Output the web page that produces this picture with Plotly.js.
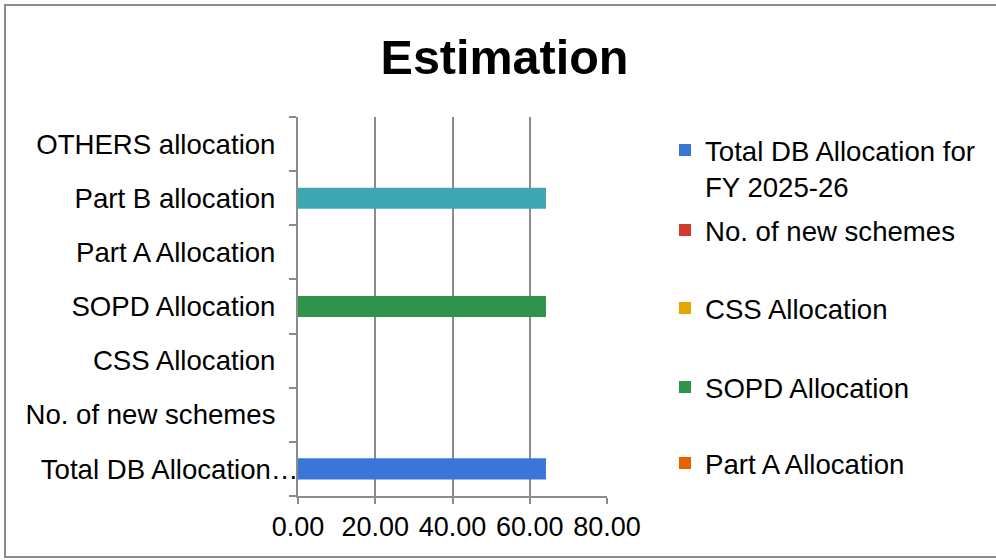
<!DOCTYPE html>
<html>
<head>
<meta charset="utf-8">
<script src="https://cdn.plot.ly/plotly-3.0.1.min.js"></script>
<style>
  html, body { margin: 0; padding: 0; background: #fff; overflow: hidden; }
  #wrap { position: relative; width: 996px; height: 560px; overflow: hidden; }
  #chart { position: absolute; left: 0; top: 0; width: 996px; height: 560px; }
  #frame { position: absolute; left: 4px; top: 4px; width: 1000px; height: 550px;
           border: 2px solid #8c8c8c; pointer-events: none; }
</style>
</head>
<body>
<div id="wrap">
  <div id="chart"></div>
  <div id="frame"></div>
</div>
<script>
// ---- data ----
const categories = [
  "Total DB Allocation for FY 2025-26",
  "No. of new schemes",
  "CSS Allocation",
  "SOPD Allocation",
  "Part A Allocation",
  "Part B allocation",
  "OTHERS allocation"
];
const tickLabels = [
  "Total DB Allocation\u2026",
  "No. of new schemes\u00A0\u00A0\u00A0",
  "CSS Allocation\u00A0\u00A0\u00A0",
  "SOPD Allocation\u00A0\u00A0\u00A0",
  "Part A Allocation\u00A0\u00A0\u00A0",
  "Part B allocation\u00A0\u00A0\u00A0",
  "OTHERS allocation\u00A0\u00A0\u00A0"
];
const values = [64.2, 0, 0, 64.2, 0, 64.2, 0];
const legendNames = [
  "Total DB Allocation for<br>FY 2025-26",
  "No. of new schemes",
  "CSS Allocation",
  "SOPD Allocation",
  "Part A Allocation",
  "Part B allocation",
  "OTHERS allocation"
];
const colors = ["#3a76d8", "#cf3b2f", "#e2a800", "#2e9449", "#e66100", "#3ca7b0", "#8e44ad"];
const xTicks = [0, 20, 40, 60, 80];

// ---- layout geometry ----
const W = 996, H = 560;
const plotL = 298, plotR = 607, plotT = 117, plotB = 496;
const FONT = "Liberation Sans, Arial, sans-serif";
const FS = 27.6;
const pw = plotR - plotL, ph = plotB - plotT;
function py(p) { return (plotB - p) / ph; }
function px(p) { return (p - plotL) / pw; }

// legend centers (px) for the visible 5 entries
const legendCenters = [168, 230, 308, 387, 463];
const legendKeys = ["legend", "legend2", "legend3", "legend4", "legend5"];

const traces = categories.map((c, i) => ({
  type: "bar",
  orientation: "h",
  y: [c],
  x: [values[i]],
  name: legendNames[i],
  marker: { color: colors[i] },
  width: 0.39,
  showlegend: i < 5,
  legend: i < 5 ? legendKeys[i] : "legend",
  hoverinfo: "x+y"
}));

const layout = {
  width: W, height: H,
  margin: { l: plotL, r: W - plotR, t: plotT, b: H - plotB, pad: 0 },
  paper_bgcolor: "#ffffff",
  plot_bgcolor: "#ffffff",
  font: { family: FONT, size: FS, color: "#000000" },
  barmode: "overlay",
  title: {
    text: "Estimation",
    font: { family: FONT, size: 48.5, weight: "bold", color: "#000000" },
    xref: "container", x: 504.5 / W, xanchor: "center",
    yref: "container", y: 1 - 57 / H, yanchor: "middle"
  },
  xaxis: {
    range: [0, 80],
    tickvals: xTicks,
    tickformat: ".2f",
    showgrid: true, gridcolor: "#8c8c8c", gridwidth: 2,
    zeroline: false,
    showline: true, linecolor: "#8c8c8c", linewidth: 2,
    ticks: "outside", ticklen: 6, tickwidth: 2, tickcolor: "#8c8c8c",
    tickfont: { family: FONT, size: 27, color: "#000" },
    fixedrange: true
  },
  yaxis: {
    type: "category",
    categoryorder: "array",
    categoryarray: categories,
    tickvals: categories,
    ticktext: tickLabels,
    range: [-0.5, 6.5],
    tickson: "boundaries",
    ticks: "outside", ticklen: 7, tickwidth: 2, tickcolor: "#8c8c8c",
    showgrid: false, zeroline: false,
    showline: true, linecolor: "#8c8c8c", linewidth: 2,
    tickfont: { family: FONT, size: FS, color: "#000" },
    ticklabelstandoff: -8,
    automargin: false,
    fixedrange: true
  }
};

legendKeys.forEach((k, i) => {
  layout[k] = {
    x: px(665), xanchor: "left",
    y: py(legendCenters[i]), yanchor: "middle",
    bgcolor: "rgba(0,0,0,0)", borderwidth: 0,
    font: { family: FONT, size: FS, color: "#000" },
    valign: "top",
    itemclick: false, itemdoubleclick: false
  };
});

Plotly.newPlot("chart", traces, layout, { displayModeBar: false, staticPlot: true });
</script>
</body>
</html>
